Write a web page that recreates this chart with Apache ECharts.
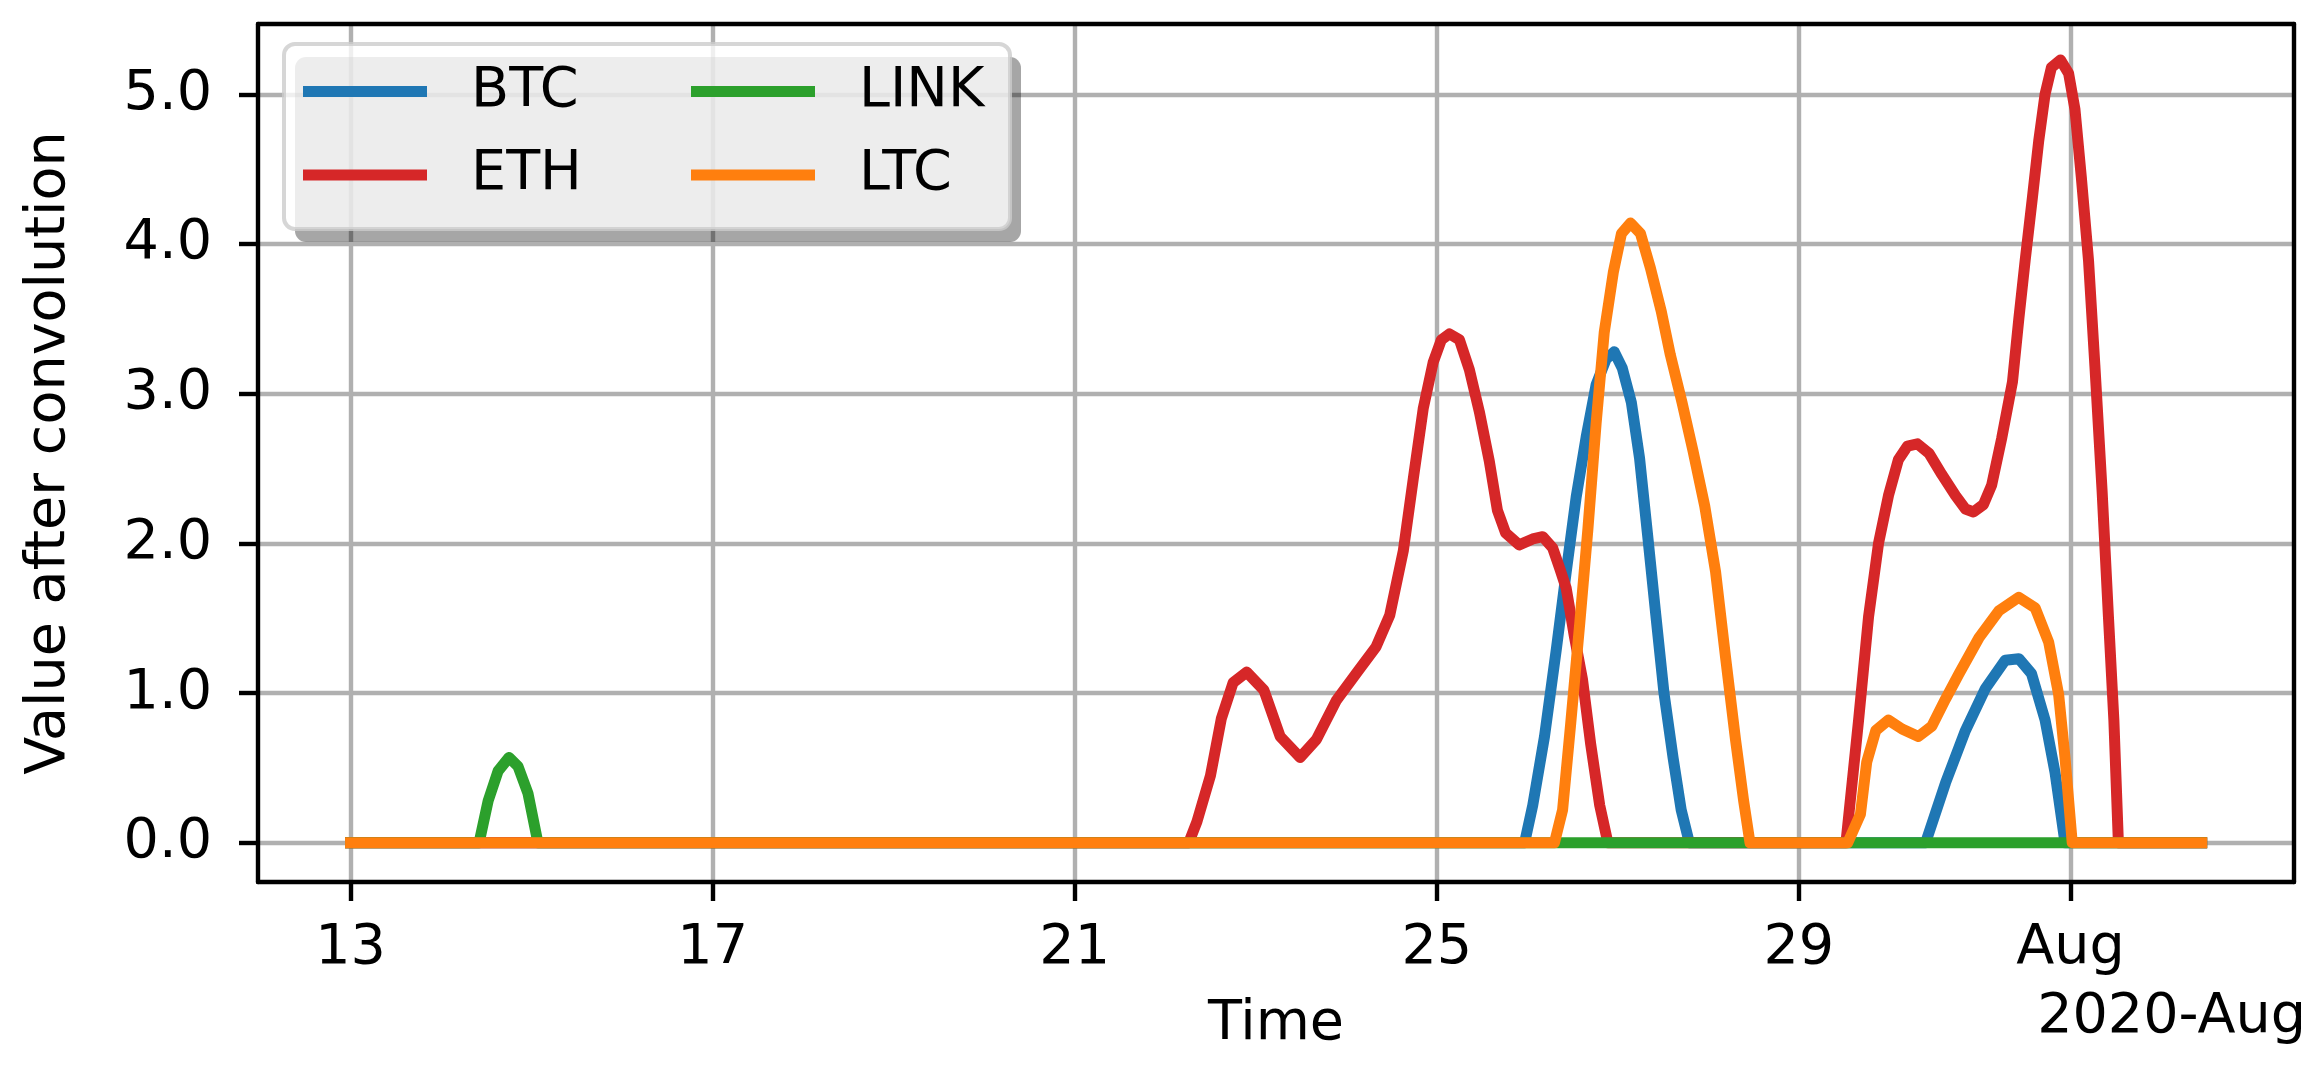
<!DOCTYPE html>
<html>
<head>
<meta charset="utf-8">
<title>Value after convolution</title>
<script src="https://cdn.jsdelivr.net/npm/echarts@6/dist/echarts.min.js"></script>
<style>
    html, body { margin: 0; padding: 0; background: #fff; }
    #main { width: 2316px; height: 1072px; }
</style>
</head>
<body>
<div id="main"></div>
<script>
// x = days since 2020-07-13 00:00, y = value after convolution
var btc = [[0,0],[12.97,0],[13.06,0.25],[13.19,0.71],[13.32,1.29],[13.43,1.81],[13.54,2.31],[13.65,2.71],[13.76,3.06],[13.87,3.23],[13.96,3.28],[14.05,3.17],[14.15,2.94],[14.24,2.57],[14.33,2.05],[14.42,1.52],[14.51,1.0],[14.61,0.57],[14.70,0.22],[14.79,0],
    [17.40,0],[17.62,0.40],[17.84,0.75],[18.06,1.03],[18.28,1.22],[18.43,1.23],[18.57,1.13],[18.72,0.82],[18.83,0.47],[18.94,0],[20.45,0]];
var eth = [[0,0],[9.26,0],[9.35,0.14],[9.50,0.45],[9.62,0.83],[9.75,1.07],[9.90,1.14],[10.09,1.02],[10.27,0.71],[10.49,0.57],[10.67,0.69],[10.89,0.95],[11.12,1.14],[11.33,1.31],[11.48,1.52],[11.63,1.95],[11.74,2.43],[11.85,2.90],[11.96,3.21],[12.05,3.36],[12.14,3.40],[12.25,3.36],[12.36,3.16],[12.47,2.88],[12.58,2.55],[12.67,2.22],[12.76,2.07],[12.91,1.99],[13.06,2.03],[13.17,2.045],[13.28,1.97],[13.36,1.83],[13.43,1.70],[13.52,1.38],[13.61,1.09],[13.70,0.66],[13.80,0.25],[13.89,0],
    [16.52,0],[16.66,0.82],[16.77,1.51],[16.88,2.00],[16.99,2.32],[17.10,2.56],[17.20,2.65],[17.31,2.665],[17.44,2.60],[17.58,2.46],[17.73,2.32],[17.84,2.23],[17.93,2.21],[18.04,2.26],[18.13,2.39],[18.24,2.70],[18.36,3.08],[18.43,3.50],[18.50,3.89],[18.58,4.31],[18.65,4.69],[18.72,5.00],[18.79,5.18],[18.89,5.23],[18.98,5.14],[19.05,4.90],[19.12,4.45],[19.20,3.89],[19.27,3.19],[19.35,2.35],[19.42,1.51],[19.48,0.82],[19.53,0],[20.45,0]];
var link = [[0,0],[1.42,0],[1.52,0.28],[1.63,0.48],[1.75,0.57],[1.85,0.51],[1.96,0.33],[2.07,0],[20.45,0]];
var ltc = [[0,0],[13.30,0],[13.39,0.22],[13.48,0.80],[13.58,1.47],[13.67,2.10],[13.76,2.80],[13.85,3.41],[13.95,3.81],[14.04,4.07],[14.14,4.14],[14.25,4.07],[14.36,3.84],[14.48,3.55],[14.58,3.26],[14.71,2.94],[14.83,2.62],[14.96,2.25],[15.08,1.81],[15.19,1.24],[15.30,0.69],[15.39,0.28],[15.46,0],
    [16.54,0],[16.68,0.19],[16.75,0.54],[16.85,0.75],[16.99,0.82],[17.14,0.76],[17.32,0.71],[17.47,0.78],[17.62,0.96],[17.77,1.13],[17.99,1.37],[18.21,1.55],[18.43,1.64],[18.61,1.57],[18.76,1.34],[18.87,0.99],[18.94,0.57],[19.02,0],[20.45,0]];

var tickDays = [0, 4, 8, 12, 16, 19];
var tickLabels = ['13', '17', '21', '25', '29', 'Aug'];
var yTicks = [0, 1, 2, 3, 4, 5];

var names = ['BTC', 'ETH', 'LINK', 'LTC'];
var colors = ['#1f77b4', '#d62728', '#2ca02c', '#ff7f0e'];
var seriesData = [btc, eth, link, ltc];

var font = 'DejaVu Sans';
var fs = 55.6;

var chart = echarts.init(document.getElementById('main'));

var series = [];
for (var i = 0; i < names.length; i++) {
    series.push({
        name: names[i],
        type: 'line',
        data: seriesData[i],
        showSymbol: false,
        smooth: false,
        color: colors[i],
        lineStyle: { width: 11, color: colors[i], cap: 'square', join: 'round' },
        emphasis: { disabled: true },
        animation: false
    });
}

function legendOpt(data, left) {
    return {
        data: data,
        orient: 'vertical',
        left: left,
        top: 61.5,
        padding: 0,
        itemGap: 23.5,
        itemWidth: 124,
        itemHeight: 11,
        icon: 'rect',
        selectedMode: false,
        z: 120,
        textStyle: { fontFamily: font, fontSize: fs, color: '#000', lineHeight: 60, padding: [0, 0, 0, 39] }
    };
}

var option = {
    backgroundColor: '#fff',
    animation: false,
    grid: { left: 258, right: 22, top: 24, bottom: 190, containLabel: false, outerBoundsMode: 'none' },
    xAxis: [{
        type: 'value',
        min: -1.0225,
        max: 21.47,
        name: 'Time',
        nameLocation: 'middle',
        nameGap: 115,
        nameTextStyle: { fontFamily: font, fontSize: fs, color: '#000' },
        axisLine: { onZero: false, lineStyle: { color: '#000', width: 4.4 } },
        axisTick: { show: true, inside: false, length: 19, lineStyle: { color: '#000', width: 4.4 }, customValues: tickDays },
        axisLabel: {
            margin: 39, fontFamily: font, fontSize: fs, color: '#000', customValues: tickDays,
            formatter: function (v) { return tickLabels[tickDays.indexOf(Math.round(v))]; }
        },
        splitLine: { show: true, lineStyle: { color: '#b0b0b0', width: 4.4 } }
    }, {
        type: 'value', position: 'top', min: -1.0225, max: 21.47,
        axisLine: { onZero: false, lineStyle: { color: '#000', width: 4.4 } },
        axisTick: { show: false }, axisLabel: { show: false }, splitLine: { show: false }
    }],
    yAxis: [{
        type: 'value',
        min: -0.262,
        max: 5.47,
        name: 'Value after convolution',
        nameLocation: 'middle',
        nameRotate: 90,
        nameGap: 180,
        nameTextStyle: { fontFamily: font, fontSize: fs, color: '#000' },
        axisLine: { show: true, onZero: false, lineStyle: { color: '#000', width: 4.4 } },
        axisTick: { show: true, inside: false, length: 19, lineStyle: { color: '#000', width: 4.4 }, customValues: yTicks },
        axisLabel: {
            margin: 46, fontFamily: font, fontSize: fs, color: '#000', customValues: yTicks,
            formatter: function (v) { return v.toFixed(1); }
        },
        splitLine: { show: true, lineStyle: { color: '#b0b0b0', width: 4.4 } }
    }, {
        type: 'value', position: 'right', min: -0.262, max: 5.47,
        axisLine: { show: true, onZero: false, lineStyle: { color: '#000', width: 4.4 } },
        axisTick: { show: false }, axisLabel: { show: false }, splitLine: { show: false }
    }],
    legend: [legendOpt(['BTC', 'ETH'], 303), legendOpt(['LINK', 'LTC'], 691)],
    graphic: [
        // legend shadow and frame
        { type: 'rect', z: 100, shape: { x: 295, y: 57, width: 726, height: 185, r: 11 }, style: { fill: 'rgba(0,0,0,0.35)' } },
        { type: 'rect', z: 101, shape: { x: 284, y: 44, width: 726, height: 185, r: 11 }, style: { fill: 'rgba(255,255,255,0.8)', stroke: 'rgba(204,204,204,0.8)', lineWidth: 4 } },
        { type: 'text', z: 100, x: 2306, y: 1018, style: { text: '2020-Aug', fontFamily: font, fontSize: fs, fill: '#000', align: 'right', verticalAlign: 'middle' } }
    ],
    series: series
};

chart.setOption(option);
</script>
</body>
</html>
